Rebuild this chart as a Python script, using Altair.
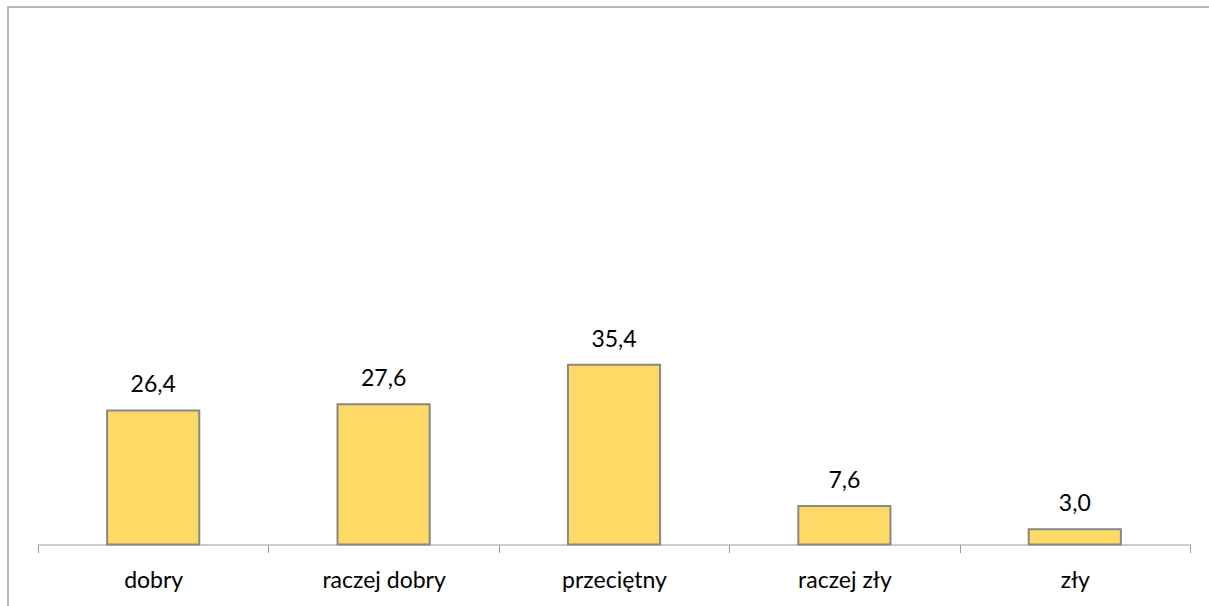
import altair as alt
import pandas as pd

# Survey answers and their percentage shares
categories = ["dobry", "raczej dobry", "przeciętny", "raczej zły", "zły"]
shares = [26.4, 27.6, 35.4, 7.6, 3.0]
share_labels = ["26,4", "27,6", "35,4", "7,6", "3,0"]

df = pd.DataFrame({"kategoria": categories, "udzial": shares, "etykieta": share_labels})

W, H = 1152, 508
FONT = "Lato"
FS = 23

x_enc = alt.X(
    "kategoria:N",
    sort=categories,
    title=None,
    scale=alt.Scale(paddingInner=0, paddingOuter=0),
    axis=alt.Axis(
        labelAngle=0,
        labelFont=FONT,
        labelFontSize=FS,
        labelFontWeight="normal",
        labelColor="#000000",
        labelBaseline="alphabetic",
        labelPadding=35,
        tickBand="extent",
        tickSize=8,
        tickColor="#9a9a9a",
        domainColor="#9a9a9a",
        domainWidth=1,
        tickWidth=1,
    ),
)
y_enc = alt.Y("udzial:Q", axis=None, scale=alt.Scale(domain=[0, 100]))

# Outer chart frame
frame = alt.Chart(pd.DataFrame({"a": [0]})).mark_rect(
    fill=None, stroke="#a0a0a0", strokeWidth=1.5
).encode(
    x=alt.value(-30), x2=alt.value(W + 60),
    y=alt.value(-29.5), y2=alt.value(H + 120),
)

bars = alt.Chart(df).mark_bar(
    color="#FFD966", stroke="#888888", strokeWidth=2,
    width=alt.RelativeBandSize(0.4),
).encode(x=x_enc, y=y_enc)

labels = alt.Chart(df).mark_text(
    font=FONT, fontSize=FS, color="#000000", baseline="alphabetic", dy=-18
).encode(x=alt.X("kategoria:N", sort=categories), y=y_enc, text="etykieta:N")

chart = (
    alt.layer(frame, bars, labels)
    .properties(
        width=W,
        height=H,
        autosize=alt.AutoSizeParams(type="none"),
        padding={"left": 38, "top": 36.5, "right": 19, "bottom": 61.5},
        background="#ffffff",
    )
    .configure_view(stroke=None, strokeWidth=0)
)

chart.save("out.html", embed_options={"renderer": "svg", "actions": False})
